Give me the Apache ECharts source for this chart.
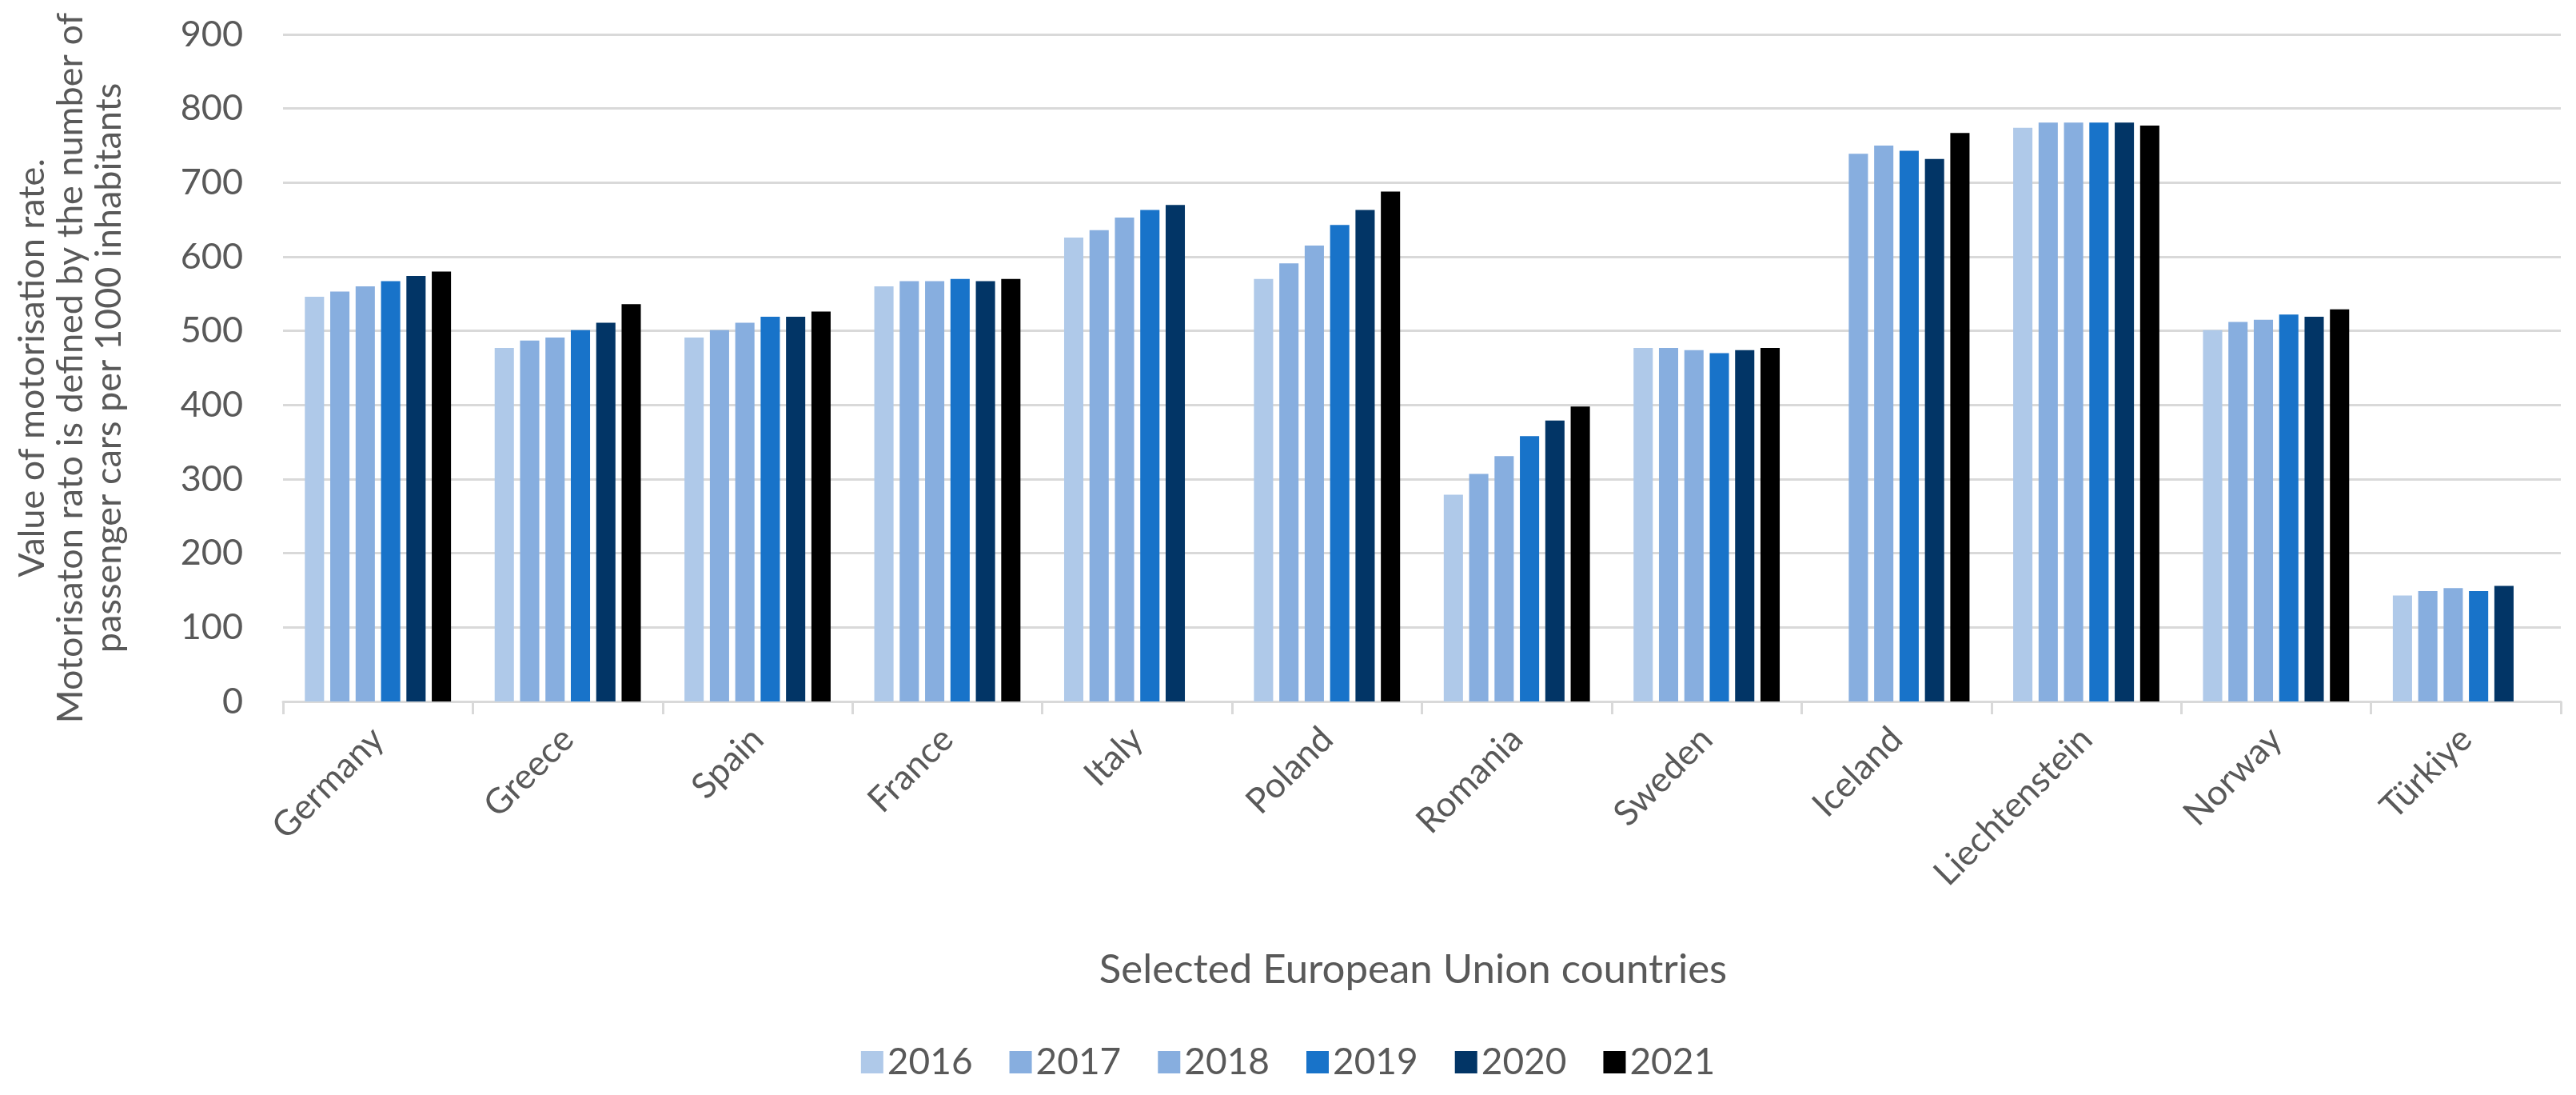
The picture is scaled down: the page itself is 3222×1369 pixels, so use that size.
<!DOCTYPE html>
<html>
<head>
<meta charset="utf-8">
<script src="https://cdn.jsdelivr.net/npm/echarts@6/dist/echarts.min.js"></script>
<style>
html,body{margin:0;padding:0;background:#fff;}
#chart{width:3222px;height:1369px;}
</style>
</head>
<body>
<div id="chart"></div>
<script>
const countries = ['Germany','Greece','Spain','France','Italy','Poland','Romania','Sweden','Iceland','Liechtenstein','Norway','Türkiye'];
const years = ['2016','2017','2018','2019','2020','2021'];
const v2016 = [546, 477, 491, 560, 626, 570, 279, 477, null, 774, 501, 143];
const v2017 = [553, 487, 501, 567, 636, 591, 307, 477, 739, 781, 512, 149];
const v2018 = [560, 491, 511, 567, 653, 615, 331, 474, 750, 781, 515, 153];
const v2019 = [567, 501, 519, 570, 663, 643, 358, 470, 743, 781, 522, 149];
const v2020 = [574, 511, 519, 567, 670, 663, 379, 474, 732, 781, 519, 156];
const v2021 = [580, 536, 526, 570, null, 688, 398, 477, 767, 777, 529, null];
const yTicks = [0,100,200,300,400,500,600,700,800,900];
const colors = ['#AFC9E9','#87AEDF','#87AEDF','#1873C9','#023566','#000000'];
const values = [v2016, v2017, v2018, v2019, v2020, v2021];

const FONT = 'Lato';
const TXT = '#595959';
const chart = echarts.init(document.getElementById('chart'));
chart.setOption({
  animation: false,
  textStyle: {fontFamily: FONT},
  grid: {left: 354, right: 19, top: 43, bottom: 492},
  legend: {
    data: years,
    left: 'center',
    top: 1300,
    itemWidth: 28,
    itemHeight: 28,
    itemGap: 46,
    icon: 'rect',
    textStyle: {fontFamily: FONT, fontSize: 46, color: TXT}
  },
  xAxis: {
    type: 'category',
    data: countries,
    name: 'Selected European Union countries',
    nameLocation: 'middle',
    nameGap: 310,
    nameTextStyle: {fontFamily: FONT, fontSize: 51, color: TXT, padding: [0, 22, 0, 0]},
    axisLine: {lineStyle: {color: '#D9D9D9', width: 3}},
    axisTick: {show: true, length: 16, lineStyle: {color: '#D9D9D9', width: 3}},
    axisLabel: {rotate: 45, margin: 40, fontFamily: FONT, fontSize: 44, color: TXT}
  },
  yAxis: {
    type: 'value',
    min: yTicks[0],
    max: yTicks[yTicks.length - 1],
    interval: 100,
    name: 'Value of motorisation rate.\nMotorisaton rato is defined by the number of\npassenger cars per 1000 inhabitants',
    nameLocation: 'middle',
    nameGap: 194,
    nameRotate: 90,
    nameTextStyle: {fontFamily: FONT, fontSize: 45, color: TXT, lineHeight: 48, align: 'center'},
    axisLine: {show: false},
    axisTick: {show: false},
    axisLabel: {margin: 50, fontFamily: FONT, fontSize: 45, color: TXT},
    splitLine: {lineStyle: {color: '#D9D9D9', width: 3}}
  },
  series: years.map((y, i) => ({
    name: y,
    type: 'bar',
    data: values[i],
    barGap: '32%',
    barCategoryGap: '23%',
    itemStyle: {color: colors[i]}
  }))
});
</script>
</body>
</html>
